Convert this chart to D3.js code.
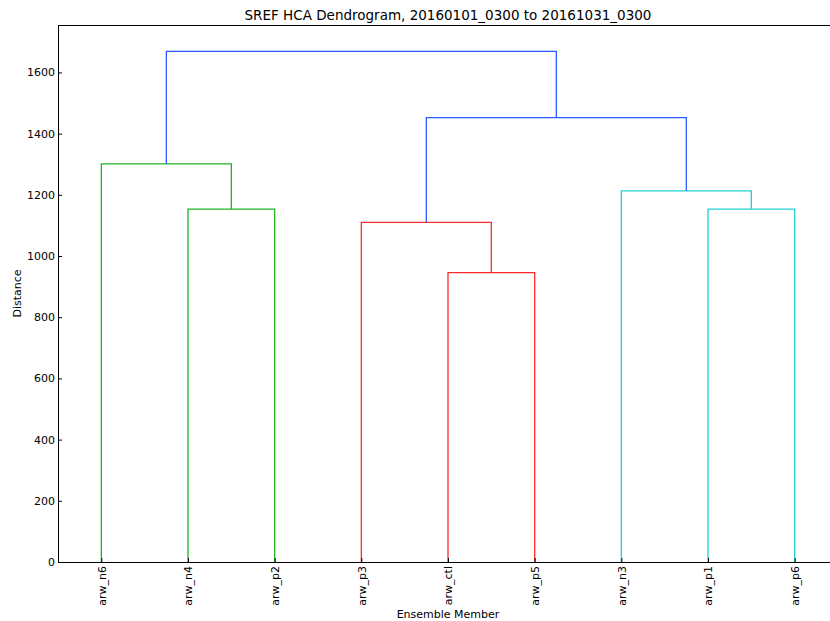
<!DOCTYPE html>
<html>
<head>
<meta charset="utf-8">
<script src="https://cdn.jsdelivr.net/npm/d3@7"></script>
<style>
  body { margin: 0; background: #fff; }
  text { font-family: "DejaVu Sans", sans-serif; fill: #000; }
</style>
</head>
<body>
<div id="chart"></div>
<script>
"use strict";

// leaf labels, left to right
var leaves = ["arw_n6", "arw_n4", "arw_p2", "arw_p3", "arw_ctl", "arw_p5", "arw_n3", "arw_p1", "arw_p6"];

// merges, scipy style: ids 0..8 are leaves, each merge gets id 9, 10, ...
var mergeLeft   = [4, 1, 7, 3, 6, 0, 12, 14];
var mergeRight  = [5, 2, 8, 9, 11, 10, 13, 15];
var mergeHeight = [946, 1153, 1153, 1110, 1213, 1301, 1452, 1669];
var mergeColor  = ["r", "g", "c", "r", "c", "g", "b", "b"];

var yTicks = [0, 200, 400, 600, 800, 1000, 1200, 1400, 1600];

var palette = { g: "#22b422", r: "#ff2a2a", c: "#22d2d2", b: "#2a5cff" };

var width = 830, height = 621;
var margin = { top: 25, left: 58 };
var plotW = 780, plotH = 537;

var svg = d3.select("#chart").append("svg")
    .attr("width", width)
    .attr("height", height);

var g = svg.append("g")
    .attr("transform", "translate(" + margin.left + "," + margin.top + ")");

var xScale = d3.scaleLinear().domain([0, leaves.length * 10]).range([0, plotW]);
var yScale = d3.scaleLinear().domain([0, 1755]).range([plotH, 0]);

// x position and height of every node
var nodeX = leaves.map(function (d, i) { return 5 + 10 * i; });
var nodeH = leaves.map(function () { return 0; });
mergeLeft.forEach(function (l, i) {
    var r = mergeRight[i];
    nodeX.push((nodeX[l] + nodeX[r]) / 2);
    nodeH.push(mergeHeight[i]);
});

// links as U shapes
var links = mergeLeft.map(function (l, i) {
    var r = mergeRight[i];
    return [
        [nodeX[l], nodeH[l]],
        [nodeX[l], mergeHeight[i]],
        [nodeX[r], mergeHeight[i]],
        [nodeX[r], nodeH[r]],
        mergeColor[i]
    ];
});

var line = d3.line()
    .x(function (p) { return xScale(p[0]); })
    .y(function (p) { return yScale(p[1]); });

g.selectAll(".link")
    .data(links)
    .enter()
    .append("path")
    .attr("class", "link")
    .attr("d", function (d) { return line(d.slice(0, 4)); })
    .attr("fill", "none")
    .attr("stroke", function (d) { return palette[d[4]]; })
    .attr("stroke-width", 1.3);

// axes
var yAxis = d3.axisLeft(yScale).tickValues(yTicks).tickFormat(d3.format("d"))
    .tickSize(-4).tickPadding(3);
var yG = g.append("g").call(yAxis);
yG.select(".domain").remove();
yG.selectAll("text").style("font-size", "11px");

var xAxis = d3.axisBottom(xScale)
    .tickValues(nodeX.slice(0, leaves.length))
    .tickFormat(function (d, i) { return leaves[i]; })
    .tickSize(-4).tickPadding(4);
var xG = g.append("g").attr("transform", "translate(0," + plotH + ")").call(xAxis);
xG.select(".domain").remove();
xG.selectAll("text")
    .style("font-size", "11px")
    .attr("text-anchor", "end")
    .attr("transform", "rotate(-90)")
    .attr("x", -4)
    .attr("y", 0)
    .attr("dy", "0.35em");

// frame
g.append("rect")
    .attr("x", 0.5).attr("y", 0.5)
    .attr("width", plotW).attr("height", plotH)
    .attr("fill", "none")
    .attr("stroke", "#000")
    .attr("stroke-width", 1);

// title and labels
svg.append("text")
    .attr("x", margin.left + plotW / 2)
    .attr("y", 20)
    .attr("text-anchor", "middle")
    .style("font-size", "13.5px")
    .text("SREF HCA Dendrogram, 20160101_0300 to 20161031_0300");

svg.append("text")
    .attr("x", margin.left + plotW / 2)
    .attr("y", 618)
    .attr("text-anchor", "middle")
    .style("font-size", "11px")
    .text("Ensemble Member");

svg.append("text")
    .attr("transform", "translate(21," + (margin.top + plotH / 2) + ") rotate(-90)")
    .attr("text-anchor", "middle")
    .style("font-size", "11px")
    .text("Distance");
</script>
</body>
</html>
